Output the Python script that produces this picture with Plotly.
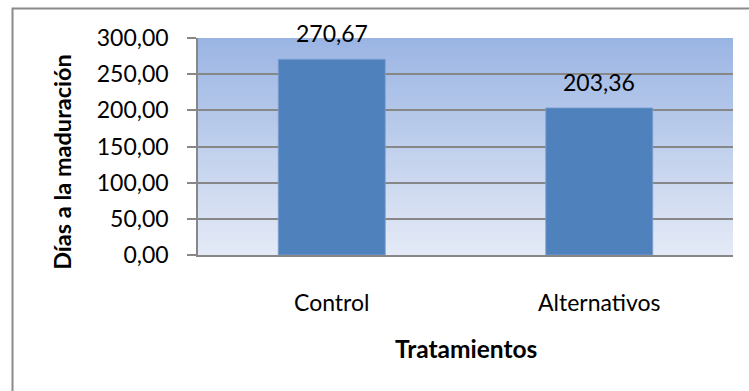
import plotly.graph_objects as go

# Data
tratamientos = ["Control", "Alternativos"]
dias = [270.67, 203.36]
y_ticks = [0, 50, 100, 150, 200, 250, 300]

FONT = "Lato"
GRID = "#878787"

fig = go.Figure()
fig.add_trace(go.Bar(
    x=tratamientos,
    y=dias,
    marker=dict(color="#4f81bd", line=dict(color="#7f9fd0", width=0.8)),
    width=0.4,
    hoverinfo="skip",
))

# value labels above each bar
annotations = []
for cat, v in zip(tratamientos, dias):
    annotations.append(dict(
        x=cat, y=v, xref="x", yref="y",
        text=f"{v:.2f}".replace(".", ","),
        showarrow=False, yanchor="middle", yshift=26,
        font=dict(family=FONT, size=23, color="#000000"),
    ))

# axis titles
annotations.append(dict(
    x=-0.254, y=0.43, xref="paper", yref="paper",
    text="<b>Días a la maduración</b>", textangle=-90,
    showarrow=False, xanchor="center", yanchor="middle",
    font=dict(family=FONT, size=23.5, color="#000000"),
))
annotations.append(dict(
    x=0.5, y=-0.433, xref="paper", yref="paper",
    text="<b>Tratamientos</b>",
    showarrow=False, xanchor="center", yanchor="middle",
    font=dict(family=FONT, size=24.5, color="#000000"),
))

# vertical gradient in the plot area, built from thin bands
shapes = []
n = 80
top = (155, 181, 227)
bot = (228, 234, 246)
for i in range(n):
    t = i / (n - 1)
    c = tuple(round(bot[k] + (top[k] - bot[k]) * t) for k in range(3))
    shapes.append(dict(
        type="rect", xref="x domain", yref="y domain",
        x0=0, x1=1, y0=i / n, y1=min(1, (i + 1.6) / n),
        fillcolor=f"rgb{c}", line=dict(width=0), layer="below",
    ))

# chart border
shapes.append(dict(
    type="rect", xref="paper", yref="paper",
    x0=-0.3467, x1=1.2, y0=-0.8, y1=1.136,
    line=dict(color="#8a8a8a", width=2), fillcolor="rgba(0,0,0,0)",
    layer="above",
))

fig.update_layout(
    width=749, height=391,
    margin=dict(l=198, r=16, t=38, b=136),
    paper_bgcolor="white",
    plot_bgcolor="rgba(0,0,0,0)",
    separators=",.",
    showlegend=False,
    bargap=0.6,
    annotations=annotations,
    shapes=shapes,
    font=dict(family=FONT, size=23, color="#000000"),
)

fig.update_yaxes(
    range=[0, 300],
    tickvals=y_ticks,
    tickformat=".2f",
    showgrid=True, gridcolor=GRID, gridwidth=1.5,
    showline=True, linecolor=GRID, linewidth=1.5,
    ticks="outside", ticklen=9, tickcolor=GRID, tickwidth=1.5,
    ticklabelstandoff=14,
    zeroline=False,
    tickfont=dict(family=FONT, size=23, color="#000000"),
)
fig.update_xaxes(
    showline=True, linecolor=GRID, linewidth=2,
    showgrid=False,
    ticks="outside", ticklen=26, tickcolor="rgba(0,0,0,0)",
    tickfont=dict(family=FONT, size=23, color="#000000"),
)

fig.write_html("out.html")
